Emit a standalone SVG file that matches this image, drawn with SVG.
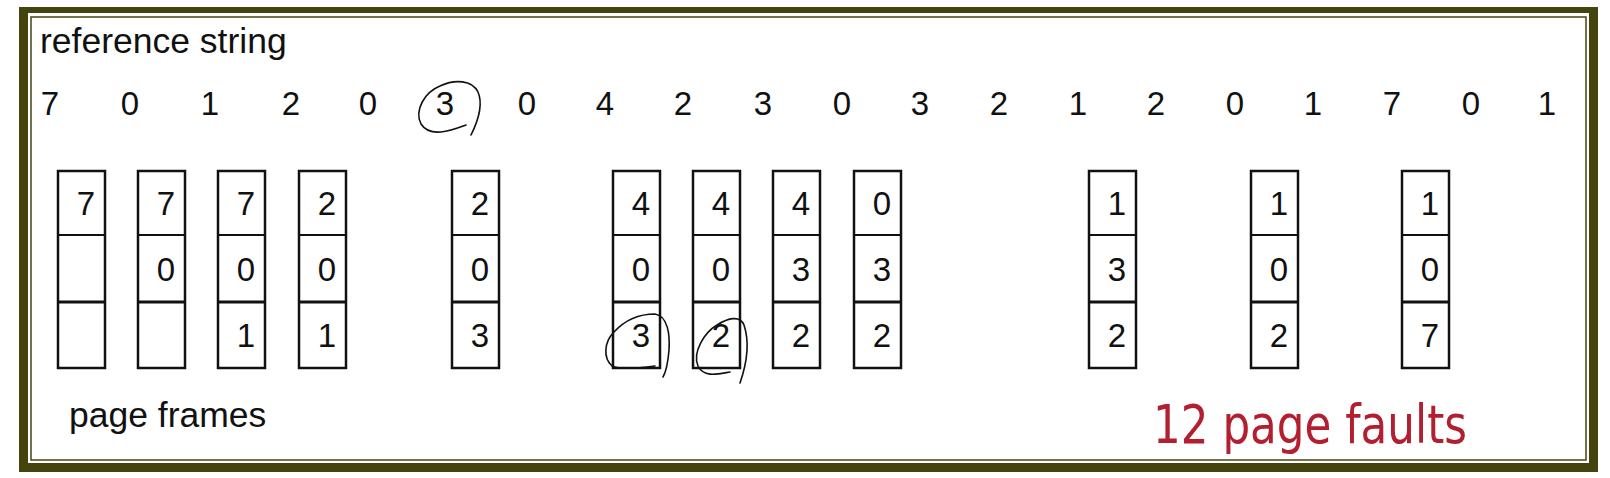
<svg xmlns="http://www.w3.org/2000/svg" width="1610" height="478" viewBox="0 0 1610 478">
<style>
.t{font-family:"Liberation Sans",Arial,sans-serif;fill:#111}
.ref{font-size:33px;text-anchor:middle}
.cell{font-size:33px;text-anchor:end}
.lbl{font-size:35.5px}
.box{fill:#fff;stroke:#111;stroke-width:2.5}
.d1{stroke:#111;stroke-width:2}
.d2{stroke:#111;stroke-width:3}
.ink{fill:none;stroke:#111;stroke-width:1.6;stroke-linecap:round}
</style>
<defs>
<g id="frame">
<rect class="box" x="0" y="0" width="47" height="197"/>
<line class="d1" x1="0" y1="64" x2="47" y2="64"/>
<line class="d2" x1="0" y1="131" x2="47" y2="131"/>
</g>
</defs>
<rect width="1610" height="478" fill="#fff"/>
<g id="border">
<rect x="19" y="7" width="1579" height="465" fill="#45440f"/>
<rect x="28" y="13" width="1561" height="450" fill="#fff"/>
<rect x="31" y="17" width="1555" height="443" fill="none" stroke="#45440f" stroke-width="1.5"/>
</g>
<text id="title" class="t lbl" x="40" y="53">reference string</text>
<g id="refstring" class="t ref">
<text x="50" y="115">7</text><text x="130" y="115">0</text><text x="210" y="115">1</text><text x="291" y="115">2</text><text x="368" y="115">0</text>
<text x="445" y="115">3</text><text x="527" y="115">0</text><text x="605" y="115">4</text><text x="683" y="115">2</text><text x="763" y="115">3</text>
<text x="842" y="115">0</text><text x="920" y="115">3</text><text x="999" y="115">2</text><text x="1078" y="115">1</text><text x="1156" y="115">2</text>
<text x="1235" y="115">0</text><text x="1313" y="115">1</text><text x="1392" y="115">7</text><text x="1471" y="115">0</text><text x="1547" y="115">1</text>
</g>
<g id="f0" transform="translate(58,171)"><use href="#frame"/><text class="t cell" x="37" y="44">7</text></g>
<g id="f1" transform="translate(138,171)"><use href="#frame"/><text class="t cell" x="37" y="44">7</text><text class="t cell" x="37" y="110">0</text></g>
<g id="f2" transform="translate(218,171)"><use href="#frame"/><text class="t cell" x="37" y="44">7</text><text class="t cell" x="37" y="110">0</text><text class="t cell" x="37" y="176">1</text></g>
<g id="f3" transform="translate(299,171)"><use href="#frame"/><text class="t cell" x="37" y="44">2</text><text class="t cell" x="37" y="110">0</text><text class="t cell" x="37" y="176">1</text></g>
<g id="f5" transform="translate(452,171)"><use href="#frame"/><text class="t cell" x="37" y="44">2</text><text class="t cell" x="37" y="110">0</text><text class="t cell" x="37" y="176">3</text></g>
<g id="f7" transform="translate(613,171)"><use href="#frame"/><text class="t cell" x="37" y="44">4</text><text class="t cell" x="37" y="110">0</text><text class="t cell" x="37" y="176">3</text></g>
<g id="f8" transform="translate(693,171)"><use href="#frame"/><text class="t cell" x="37" y="44">4</text><text class="t cell" x="37" y="110">0</text><text class="t cell" x="37" y="176">2</text></g>
<g id="f9" transform="translate(773,171)"><use href="#frame"/><text class="t cell" x="37" y="44">4</text><text class="t cell" x="37" y="110">3</text><text class="t cell" x="37" y="176">2</text></g>
<g id="f10" transform="translate(854,171)"><use href="#frame"/><text class="t cell" x="37" y="44">0</text><text class="t cell" x="37" y="110">3</text><text class="t cell" x="37" y="176">2</text></g>
<g id="f13" transform="translate(1089,171)"><use href="#frame"/><text class="t cell" x="37" y="44">1</text><text class="t cell" x="37" y="110">3</text><text class="t cell" x="37" y="176">2</text></g>
<g id="f15" transform="translate(1251,171)"><use href="#frame"/><text class="t cell" x="37" y="44">1</text><text class="t cell" x="37" y="110">0</text><text class="t cell" x="37" y="176">2</text></g>
<g id="f17" transform="translate(1402,171)"><use href="#frame"/><text class="t cell" x="37" y="44">1</text><text class="t cell" x="37" y="110">0</text><text class="t cell" x="37" y="176">7</text></g>
<g id="connectors">
<path class="ink" d="M466,125 C450,131 430,138 421,124 C414,110 425,92 440,86 C455,79 472,80 478,92 C484,106 476,125 471,135"/>
<path class="ink" d="M655,366 C640,368 620,370 612,366 C603,358 604,342 614,332 C625,320 640,314 655,314 C668,316 670,335 669,350 C668,362 666,372 663,377"/>
<path class="ink" d="M730,372 C718,374 704,378 698,366 C692,352 705,332 717,325 C728,318 740,315 744,325 C749,340 748,360 740,383"/>
</g>
<text id="frames-label" class="t lbl" x="69" y="427">page frames</text>
<text id="faults" x="1153" y="443" font-family="'DejaVu Sans',Verdana,sans-serif" font-size="53" fill="#b22030" textLength="314" lengthAdjust="spacingAndGlyphs">12 page faults</text>
</svg>
